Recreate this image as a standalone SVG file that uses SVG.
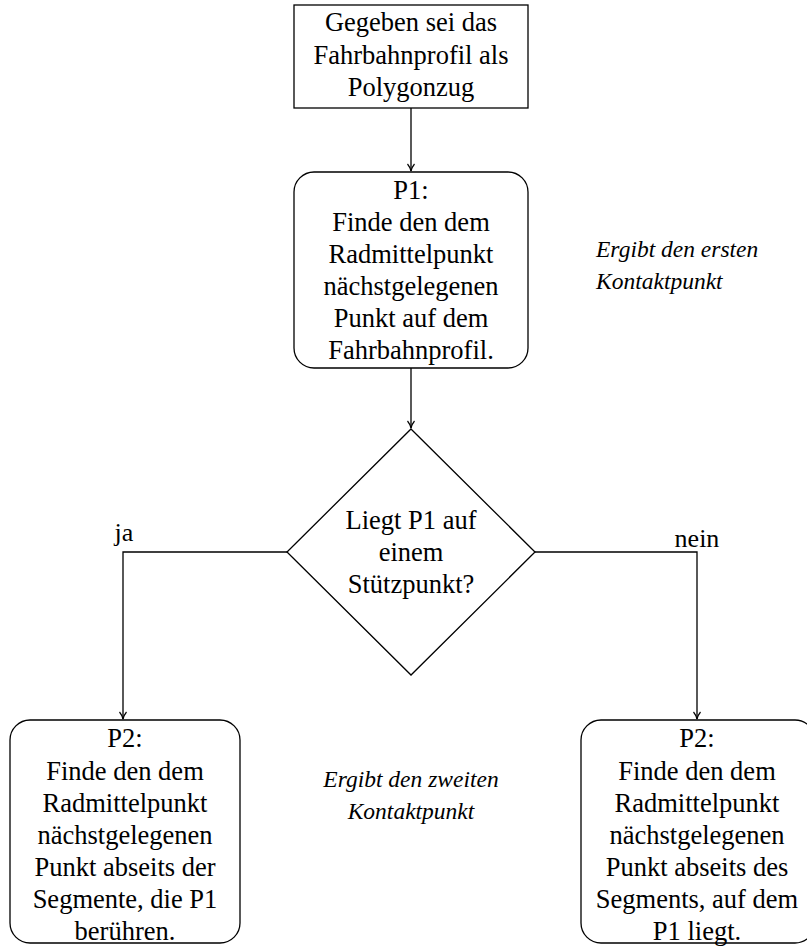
<svg xmlns="http://www.w3.org/2000/svg" width="807" height="946" viewBox="0 0 807 946">
<defs>
<style>
.n{fill:#fff;stroke:#000;stroke-width:1.3}
.c{fill:none;stroke:#000;stroke-width:1.3}
</style>
<marker id="a" markerWidth="10" markerHeight="10" refX="8" refY="5" orient="auto" markerUnits="userSpaceOnUse">
<path d="M1,1.5 Q4,4 8,5 Q4,6 1,8.5" fill="none" stroke="#000" stroke-width="1.2"/>
</marker>
</defs>
<rect width="807" height="946" fill="#fff"/>
<g id="connectors">
<path class="c" d="M411,108 V171" marker-end="url(#a)"/>
<path class="c" d="M411,368 V428" marker-end="url(#a)"/>
<path class="c" d="M287,552 H123 V719" marker-end="url(#a)"/>
<path class="c" d="M535,552 H697 V719" marker-end="url(#a)"/>
<text x="124" y="541" font-family="'Liberation Serif', serif" font-size="26" text-anchor="middle">ja</text>
<text x="697" y="547" font-family="'Liberation Serif', serif" font-size="26" text-anchor="middle">nein</text>
</g>
<g id="start">
<rect class="n" x="294" y="5" width="234" height="103"/>
<text x="411" y="31" font-family="'Liberation Serif', serif" font-size="26.5" text-anchor="middle">Gegeben sei das</text>
<text x="411" y="64" font-family="'Liberation Serif', serif" font-size="26.5" text-anchor="middle">Fahrbahnprofil als</text>
<text x="411" y="96" font-family="'Liberation Serif', serif" font-size="26.5" text-anchor="middle">Polygonzug</text>
</g>
<g id="p1">
<rect class="n" x="294" y="172" width="234" height="196" rx="20"/>
<text x="411" y="199" font-family="'Liberation Serif', serif" font-size="26.5" text-anchor="middle">P1:</text>
<text x="411" y="231" font-family="'Liberation Serif', serif" font-size="26.5" text-anchor="middle">Finde den dem</text>
<text x="411" y="263" font-family="'Liberation Serif', serif" font-size="26.5" text-anchor="middle">Radmittelpunkt</text>
<text x="411" y="295" font-family="'Liberation Serif', serif" font-size="26.5" text-anchor="middle">nächstgelegenen</text>
<text x="411" y="327" font-family="'Liberation Serif', serif" font-size="26.5" text-anchor="middle">Punkt auf dem</text>
<text x="411" y="359" font-family="'Liberation Serif', serif" font-size="26.5" text-anchor="middle">Fahrbahnprofil.</text>
</g>
<g id="note1">
<text x="596" y="257" font-family="'Liberation Serif', serif" font-size="23.5" font-style="italic">Ergibt den ersten</text>
<text x="596" y="289" font-family="'Liberation Serif', serif" font-size="23.5" font-style="italic">Kontaktpunkt</text>
</g>
<g id="decision">
<polygon class="n" points="411,429 535,552 411,675 287,552"/>
<text x="411" y="529" font-family="'Liberation Serif', serif" font-size="26.5" text-anchor="middle">Liegt P1 auf</text>
<text x="411" y="561" font-family="'Liberation Serif', serif" font-size="26.5" text-anchor="middle">einem</text>
<text x="411" y="593" font-family="'Liberation Serif', serif" font-size="26.5" text-anchor="middle">Stützpunkt?</text>
</g>
<g id="p2left">
<rect class="n" x="10" y="720" width="230" height="223" rx="20"/>
<text x="125" y="747" font-family="'Liberation Serif', serif" font-size="26.5" text-anchor="middle">P2:</text>
<text x="125" y="780" font-family="'Liberation Serif', serif" font-size="26.5" text-anchor="middle">Finde den dem</text>
<text x="125" y="812" font-family="'Liberation Serif', serif" font-size="26.5" text-anchor="middle">Radmittelpunkt</text>
<text x="125" y="844" font-family="'Liberation Serif', serif" font-size="26.5" text-anchor="middle">nächstgelegenen</text>
<text x="125" y="876" font-family="'Liberation Serif', serif" font-size="26.5" text-anchor="middle">Punkt abseits der</text>
<text x="125" y="908" font-family="'Liberation Serif', serif" font-size="26.5" text-anchor="middle">Segmente, die P1</text>
<text x="125" y="940" font-family="'Liberation Serif', serif" font-size="26.5" text-anchor="middle">berühren.</text>
</g>
<g id="note2">
<text x="411" y="787" font-family="'Liberation Serif', serif" font-size="23.5" font-style="italic" text-anchor="middle">Ergibt den zweiten</text>
<text x="411" y="819" font-family="'Liberation Serif', serif" font-size="23.5" font-style="italic" text-anchor="middle">Kontaktpunkt</text>
</g>
<g id="p2right">
<rect class="n" x="581" y="720" width="234" height="223" rx="20"/>
<text x="697" y="747" font-family="'Liberation Serif', serif" font-size="26.5" text-anchor="middle">P2:</text>
<text x="697" y="780" font-family="'Liberation Serif', serif" font-size="26.5" text-anchor="middle">Finde den dem</text>
<text x="697" y="812" font-family="'Liberation Serif', serif" font-size="26.5" text-anchor="middle">Radmittelpunkt</text>
<text x="697" y="844" font-family="'Liberation Serif', serif" font-size="26.5" text-anchor="middle">nächstgelegenen</text>
<text x="697" y="876" font-family="'Liberation Serif', serif" font-size="26.5" text-anchor="middle">Punkt abseits des</text>
<text x="697" y="908" font-family="'Liberation Serif', serif" font-size="26.5" text-anchor="middle">Segments, auf dem</text>
<text x="697" y="940" font-family="'Liberation Serif', serif" font-size="26.5" text-anchor="middle">P1 liegt.</text>
</g>
</svg>
